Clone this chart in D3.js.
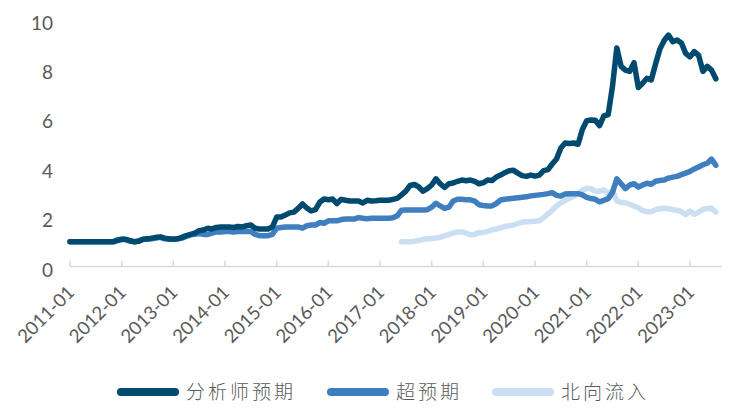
<!DOCTYPE html>
<html><head><meta charset="utf-8">
<script src="https://cdn.jsdelivr.net/npm/d3@7"></script>
<style>
html,body{margin:0;padding:0;background:#fff;}
svg{display:block;}
</style></head>
<body>
<svg id="chart" width="732" height="414"></svg>
<script>
// ---- data (monthly, 2011-01 .. 2023-07) ----
const startYear = 2011;
const analyst = [
1.0,1.0,1.0,1.0,1.0,1.0,1.0,1.0,1.0,1.0,1.0,1.05,
1.1,1.1,1.05,1.0,1.02,1.1,1.12,1.15,1.18,1.2,1.15,1.12,
1.1,1.12,1.18,1.25,1.3,1.35,1.45,1.48,1.55,1.52,1.58,1.6,
1.6,1.6,1.58,1.62,1.6,1.65,1.68,1.55,1.52,1.52,1.52,1.6,
2.0,2.0,2.08,2.17,2.2,2.35,2.53,2.37,2.25,2.3,2.6,2.73,
2.7,2.73,2.55,2.72,2.68,2.65,2.65,2.65,2.57,2.68,2.65,2.66,
2.68,2.68,2.68,2.72,2.76,2.9,3.05,3.28,3.32,3.22,3.05,3.15,
3.3,3.55,3.35,3.2,3.35,3.38,3.45,3.5,3.47,3.5,3.45,3.35,
3.4,3.5,3.48,3.62,3.7,3.8,3.88,3.9,3.78,3.68,3.65,3.7,
3.66,3.7,3.88,3.92,4.15,4.35,4.8,5.0,4.98,5.0,4.95,5.55,
5.9,5.93,5.92,5.7,6.1,6.15,7.3,8.85,8.1,7.95,7.9,8.25,
7.25,7.42,7.62,7.55,8.2,8.8,9.15,9.37,9.1,9.17,9.05,8.63,
8.49,8.7,8.55,7.9,8.1,7.95,7.6
];
const beyond = [
1.0,1.0,1.0,1.0,1.0,1.0,1.0,1.0,1.0,1.0,1.0,1.08,
1.1,1.08,1.02,1.0,1.05,1.1,1.1,1.12,1.15,1.18,1.12,1.1,
1.1,1.12,1.15,1.22,1.28,1.3,1.33,1.3,1.3,1.35,1.4,1.4,
1.42,1.42,1.4,1.42,1.42,1.42,1.42,1.3,1.25,1.25,1.25,1.3,
1.55,1.58,1.6,1.6,1.6,1.6,1.55,1.65,1.68,1.68,1.78,1.75,
1.85,1.85,1.85,1.9,1.92,1.92,1.92,1.98,1.95,1.93,1.95,1.95,
1.95,1.95,1.95,1.97,2.05,2.28,2.29,2.29,2.29,2.29,2.29,2.3,
2.4,2.56,2.45,2.35,2.4,2.65,2.72,2.72,2.7,2.7,2.65,2.5,
2.47,2.45,2.45,2.55,2.69,2.72,2.74,2.76,2.78,2.8,2.82,2.86,
2.88,2.9,2.92,2.95,2.99,2.88,2.85,2.94,2.95,2.95,2.95,2.9,
2.8,2.75,2.72,2.62,2.68,2.75,3.0,3.55,3.35,3.15,3.3,3.35,
3.22,3.3,3.37,3.33,3.45,3.48,3.5,3.58,3.62,3.65,3.72,3.78,
3.85,3.95,4.03,4.12,4.18,4.35,4.1
];
const northbound = [
null,null,null,null,null,null,null,null,null,null,null,null,
null,null,null,null,null,null,null,null,null,null,null,null,
null,null,null,null,null,null,null,null,null,null,null,null,
null,null,null,null,null,null,null,null,null,null,null,null,
null,null,null,null,null,null,null,null,null,null,null,null,
null,null,null,null,null,null,null,null,null,null,null,null,
null,null,null,null,null,1.0,1.0,1.0,1.02,1.05,1.1,1.12,
1.13,1.15,1.18,1.25,1.3,1.35,1.4,1.4,1.35,1.28,1.3,1.37,
1.38,1.42,1.48,1.52,1.56,1.62,1.65,1.68,1.74,1.8,1.81,1.82,
1.83,1.85,1.98,2.12,2.28,2.45,2.58,2.68,2.76,2.85,2.95,3.08,
3.17,3.15,3.05,3.05,3.1,2.96,3.08,2.65,2.6,2.58,2.52,2.45,
2.38,2.26,2.22,2.22,2.3,2.34,2.36,2.34,2.3,2.28,2.22,2.1,
2.24,2.12,2.2,2.32,2.35,2.36,2.2
];
const seriesNames = ["分析师预期","超预期","北向流入"];
const seriesColors = ["#004a70","#3f7fc0","#cadff2"];
const yTicks = [0,2,4,6,8,10];
const xTickLabels = ["2011-01","2012-01","2013-01","2014-01","2015-01","2016-01","2017-01","2018-01","2019-01","2020-01","2021-01","2022-01","2023-01"];

const n = analyst.length;
const svg = d3.select("#chart");
const x = d3.scaleLinear().domain([0, 12*12]).range([70, 690]);
const y = d3.scaleLinear().domain([0, 10]).range([266.5, 19.5]);
const textColor = "#595959";

// y labels
svg.append("g").selectAll("text").data(yTicks).join("text")
  .attr("x", 53).attr("y", d => y(d) + 10)
  .attr("text-anchor", "end")
  .attr("font-family", "Lato, 'Noto Sans', sans-serif")
  .attr("font-size", 19).attr("fill", textColor)
  .text(d => d);

// x axis
svg.append("line").attr("x1", 70).attr("x2", 722).attr("y1", 266.5).attr("y2", 266.5)
  .attr("stroke", "#d9d9d9").attr("stroke-width", 1.5);
const tickIdx = xTickLabels.map((d, i) => i * 12);
svg.append("g").selectAll("line").data(tickIdx).join("line")
  .attr("x1", d => x(d)).attr("x2", d => x(d)).attr("y1", 260.5).attr("y2", 266.5)
  .attr("stroke", "#d9d9d9").attr("stroke-width", 1.5);
svg.append("g").selectAll("text").data(xTickLabels).join("text")
  .attr("transform", (d, i) => `translate(${x(i*12)+1},${289}) rotate(-45)`)
  .attr("text-anchor", "end")
  .attr("dy", "0.35em")
  .attr("font-family", "Lato, 'Noto Sans', sans-serif")
  .attr("font-size", 18.5).attr("fill", textColor)
  .text(d => d);

// lines
const line = d3.line().defined(d => d != null).x((d, i) => x(i)).y(d => y(d));
const allSeries = [northbound, beyond, analyst];
const colorsDraw = [seriesColors[2], seriesColors[1], seriesColors[0]];
allSeries.forEach((s, k) => {
  svg.append("path").datum(s)
    .attr("d", line)
    .attr("fill", "none")
    .attr("stroke", colorsDraw[k])
    .attr("stroke-width", 5.5)
    .attr("stroke-linejoin", "round")
    .attr("stroke-linecap", "round");
});

// legend
const legendX = [121, 331, 496];
const lg = svg.append("g");
seriesNames.forEach((name, i) => {
  lg.append("line").attr("x1", legendX[i]).attr("x2", legendX[i] + 54)
    .attr("y1", 392).attr("y2", 392)
    .attr("stroke", seriesColors[i]).attr("stroke-width", 8).attr("stroke-linecap", "round");
  lg.append("text").attr("x", legendX[i] + 65).attr("y", 392).attr("dy", "0.36em")
    .attr("font-family", "'Noto Sans CJK SC', sans-serif")
    .attr("font-weight", 300)
    .attr("font-size", 19).attr("letter-spacing", 3).attr("fill", textColor)
    .text(name);
});
</script>
</body></html>
